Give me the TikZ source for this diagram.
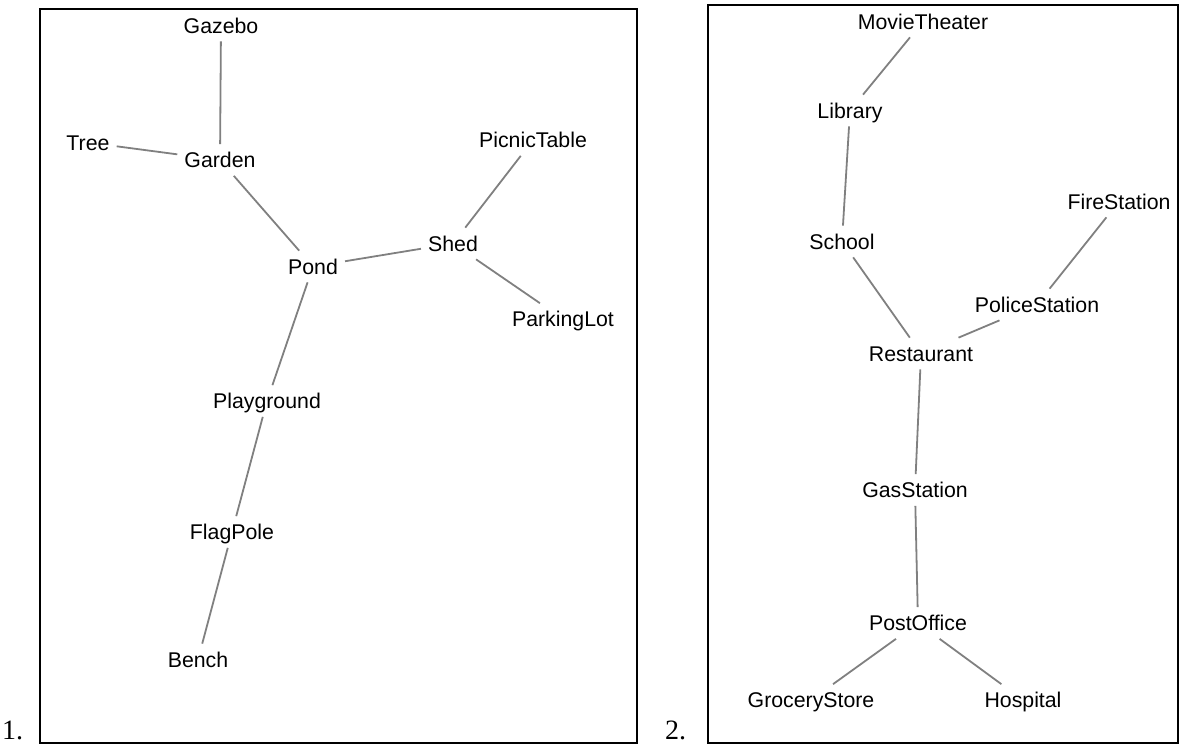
\documentclass[tikz,border=0pt]{standalone}
\usepackage{fontspec}
\setmainfont{Liberation Sans}
\newfontfamily\numfont{Liberation Serif}
\definecolor{edgegray}{RGB}{128,128,128}
\begin{document}
\begin{tikzpicture}[x=1pt,y=-1pt,
  lbl/.style={font=\fontsize{21.3}{24}\selectfont, inner xsep=7pt, inner ysep=8pt,
              text height=15.3pt, text depth=0pt, anchor=center},
  edge/.style={draw=edgegray, line width=1.8pt},
  frame/.style={draw=black, line width=1.6pt},
  num/.style={font=\fontsize{28}{30}\numfont\selectfont, anchor=base west, inner sep=0pt}]
\useasboundingbox (0,0) rectangle (1180,745);

% frames
\draw[frame] (40,9) rectangle (637,743);
\draw[frame] (708,5) rectangle (1178,743);
\node[num] (n1) at (2,739) {1.};
\node[num] (n2) at (665,739) {2.};

% panel 1
\node[lbl] (gazebo) at (221,25.5) {Gazebo};
\node[lbl] (tree) at (88,142.5) {Tree};
\node[lbl] (garden) at (220,160) {Garden};
\node[lbl] (pond) at (313,266.5) {Pond};
\node[lbl] (shed) at (453,243.5) {Shed};
\node[lbl] (picnic) at (533,140) {PicnicTable};
\node[lbl] (parking) at (563,319) {ParkingLot};
\node[lbl] (playground) at (267,401) {Playground};
\node[lbl] (flagpole) at (232,532) {FlagPole};
\node[lbl] (bench) at (198,659.5) {Bench};

\draw[edge] (gazebo) -- (garden);
\draw[edge] (tree) -- (garden);
\draw[edge] (garden) -- (pond);
\draw[edge] (pond) -- (shed);
\draw[edge] (shed) -- (picnic);
\draw[edge] (shed) -- (parking);
\draw[edge] (pond) -- (playground);
\draw[edge] (playground) -- (flagpole);
\draw[edge] (flagpole) -- (bench);

% panel 2
\node[lbl] (movie) at (923,21.5) {MovieTheater};
\node[lbl] (library) at (850,110.5) {Library};
\node[lbl] (school) at (842,241.5) {School};
\node[lbl] (restaurant) at (921,353.5) {Restaurant};
\node[lbl] (police) at (1037,304.5) {PoliceStation};
\node[lbl] (fire) at (1119,201.5) {FireStation};
\node[lbl] (gas) at (915,490) {GasStation};
\node[lbl] (post) at (918,623) {PostOffice};
\node[lbl] (grocery) at (811,700) {GroceryStore};
\node[lbl] (hospital) at (1023,700) {Hospital};

\draw[edge] (movie) -- (library);
\draw[edge] (library) -- (school);
\draw[edge] (school) -- (restaurant);
\draw[edge] (restaurant) -- (police);
\draw[edge] (police) -- (fire);
\draw[edge] (restaurant) -- (gas);
\draw[edge] (gas) -- (post);
\draw[edge] (post) -- (grocery);
\draw[edge] (post) -- (hospital);
\end{tikzpicture}
\end{document}
